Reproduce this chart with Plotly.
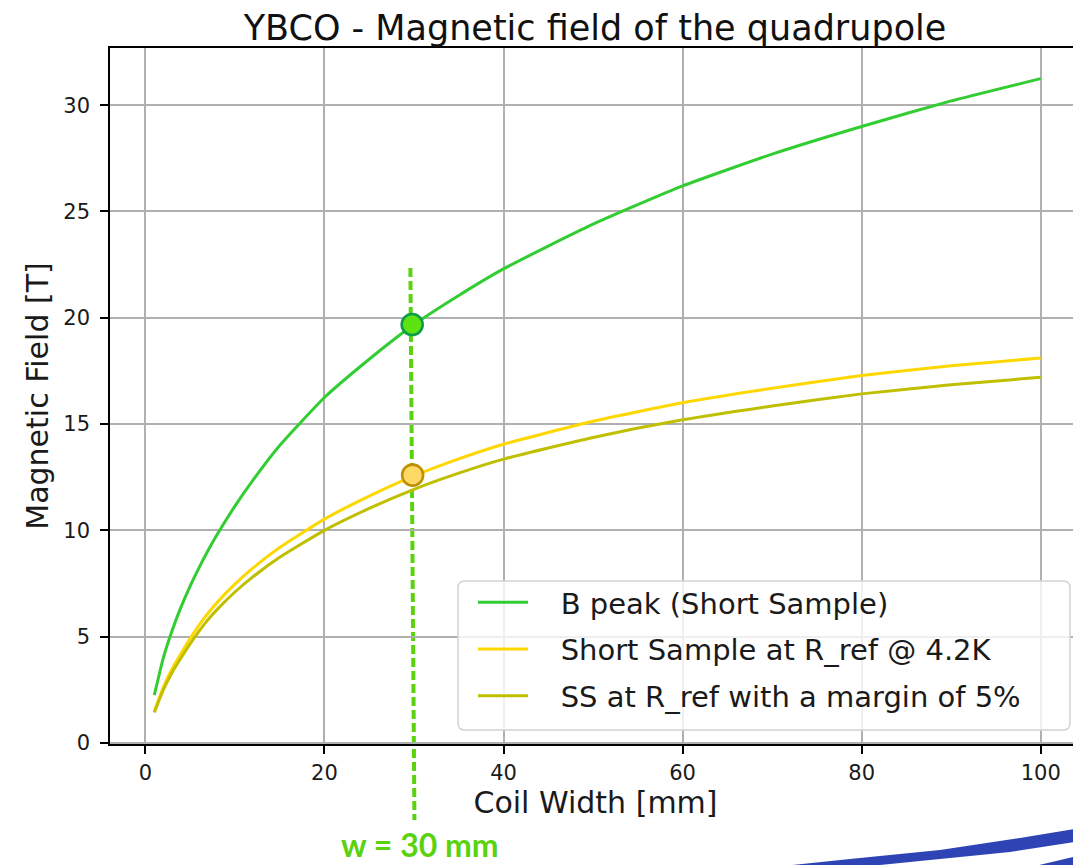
import plotly.graph_objects as go

# ---------------- data ----------------
coil_width = [1, 2, 3, 4, 5, 6, 7, 8, 10, 12, 15, 20, 25, 30, 35, 40, 50, 60, 70, 80, 90, 100]
b_peak = [2.25, 3.99, 5.3, 6.41, 7.38, 8.25, 9.05, 9.79, 11.14, 12.35, 13.99, 16.25, 18.05, 19.68,
          21.05, 22.3, 24.4, 26.2, 27.7, 29.0, 30.2, 31.25]
ss_ref = [1.5, 2.62, 3.5, 4.22, 4.91, 5.54, 6.1, 6.6, 7.47, 8.22, 9.19, 10.53, 11.61, 12.56,
          13.36, 14.05, 15.13, 16.0, 16.68, 17.28, 17.74, 18.11]
ss_margin = [1.43, 2.49, 3.33, 4.01, 4.66, 5.26, 5.8, 6.27, 7.1, 7.81, 8.73, 10.0, 11.03, 11.93,
             12.69, 13.35, 14.37, 15.2, 15.85, 16.42, 16.85, 17.2]

series_names = ["B peak (Short Sample)", "Short Sample at R_ref @ 4.2K", "SS at R_ref with a margin of 5%"]
series_colors = ["#32CD32", "#FFD700", "#BFBF00"]

# highlighted operating point (w = 30 mm)
point_x = [29.8, 29.85]
point_y = [19.68, 12.6]
point_fill = ["#5EE312", "#FFD966"]
point_edge = ["#0E9C4C", "#BF9000"]

x_ticks = [0, 20, 40, 60, 80, 100]
y_ticks = [0, 5, 10, 15, 20, 25, 30]

# ---------------- layout geometry ----------------
# The page body has a default 8 px margin, so the figure is drawn 8 px in from the
# window's top-left corner; sizes are chosen so the figure exactly fills the window.
OFF = 8
W, H = 1081 - OFF, 865 - OFF
ML, MR, MT, MB = 110 - OFF, 0, 48 - OFF, 121
PW, PH = W - ML - MR, H - MT - MB


def px_x(px):
    """window pixel x of the reference -> paper x"""
    return (px - OFF - ML) / PW


def px_y(py):
    """window pixel y of the reference -> paper y"""
    return (H - MB - (py - OFF)) / PH


def poly(points):
    return "M " + " L ".join(f"{px_x(a):.5f} {px_y(b):.5f}" for a, b in points) + " Z"


def rounded_rect(x0, y0, x1, y1, r):
    p = lambda a, b: f"{px_x(a):.5f} {px_y(b):.5f}"
    return (f"M {p(x0 + r, y0)} L {p(x1 - r, y0)} Q {p(x1, y0)} {p(x1, y0 + r)} "
            f"L {p(x1, y1 - r)} Q {p(x1, y1)} {p(x1 - r, y1)} L {p(x0 + r, y1)} "
            f"Q {p(x0, y1)} {p(x0, y1 - r)} L {p(x0, y0 + r)} Q {p(x0, y0)} {p(x0 + r, y0)} Z")


NB = "\u00a0"

fig = go.Figure()

for name, ys, col in zip(series_names, [b_peak, ss_ref, ss_margin], series_colors):
    fig.add_trace(go.Scatter(
        x=coil_width, y=ys, mode="lines", name=NB * 3 + name,
        line=dict(color=col, width=3, shape="spline", smoothing=0.5),
        legendgroup=name,
    ))

for px_, py_, fc, ec in zip(point_x, point_y, point_fill, point_edge):
    fig.add_trace(go.Scatter(
        x=[px_], y=[py_], mode="markers", showlegend=False,
        marker=dict(size=21, color=fc, line=dict(color=ec, width=2.6)),
        cliponaxis=False,
    ))

# dashed vertical guide at w = 30 mm (extends below the axis, like the slide overlay)
fig.add_shape(type="line", xref="x", yref="paper",
              x0=29.6, x1=30.05, y0=px_y(268), y1=px_y(820),
              line=dict(color="#5BD20E", width=4, dash="9px,4px"), layer="below")

# legend frame (rounded, semi-transparent like matplotlib)
fig.add_shape(type="path", xref="paper", yref="paper",
              path=rounded_rect(458, 581, 1070, 730, 7),
              fillcolor="rgba(255,255,255,0.8)", line=dict(color="#d2d2d2", width=1.5),
              layer="above")

# blue brush stroke decoration (bottom-right of the slide)
fig.add_shape(type="path", xref="paper", yref="paper",
              path=poly([(783, 866), (850, 859), (940, 850), (1020, 838), (1081, 828),
                         (1081, 841), (1010, 852), (920, 861), (870, 866)]),
              fillcolor="#2E44B4", line=dict(width=0))
fig.add_shape(type="path", xref="paper", yref="paper",
              path=poly([(1035, 866), (1081, 855), (1081, 866)]),
              fillcolor="#2E44B4", line=dict(width=0))

fig.add_annotation(text="<b>w = 30 mm</b>", xref="x", yref="paper",
                   x=30.7, y=px_y(865), xanchor="center", yanchor="bottom",
                   showarrow=False, borderpad=0,
                   font=dict(family="Lato, Open Sans, sans-serif", size=32, color="#5BD20E"))

fig.update_layout(
    width=W, height=H,
    margin=dict(l=ML, r=MR, t=MT, b=MB, pad=0),
    paper_bgcolor="white", plot_bgcolor="white",
    font=dict(family="DejaVu Sans", color="black"),
    title=dict(text="YBCO - Magnetic field of the quadrupole",
               x=(595 - OFF) / W, xanchor="center", y=1 - (28 - OFF) / H, yanchor="middle",
               font=dict(size=35, color="#111111")),
    legend=dict(x=px_x(473), y=px_y(577), xanchor="left", yanchor="top",
                bgcolor="rgba(0,0,0,0)", borderwidth=0,
                font=dict(size=29, color="#1a1a1a"), traceorder="grouped",
                tracegroupgap=6, itemwidth=50),
    showlegend=True,
)

fig.update_xaxes(
    range=[-3.95, 104.5], tickvals=x_ticks, ticks="outside", ticklen=8, tickwidth=1.5,
    tickcolor="black", showline=True, linecolor="black", linewidth=1.6, mirror=True,
    showgrid=True, gridcolor="#b0b0b0", gridwidth=1.5, zeroline=False, automargin=False,
    tickfont=dict(size=21, color="#1a1a1a"), ticklabelstandoff=1,
    title=dict(text="Coil Width [mm]", font=dict(size=30, color="#1a1a1a"), standoff=8),
)
fig.update_yaxes(
    range=[-0.05, 32.69], tickvals=y_ticks, ticks="outside", ticklen=8, tickwidth=1.5,
    tickcolor="black", showline=True, linecolor="black", linewidth=1.6, mirror=False,
    showgrid=True, gridcolor="#b0b0b0", gridwidth=1.5, zeroline=False, automargin=False,
    tickfont=dict(size=21, color="#1a1a1a"), ticklabelstandoff=6,
    title=dict(text="Magnetic Field [T]", font=dict(size=30, color="#1a1a1a"), standoff=6),
)

fig.write_html("out.html")
